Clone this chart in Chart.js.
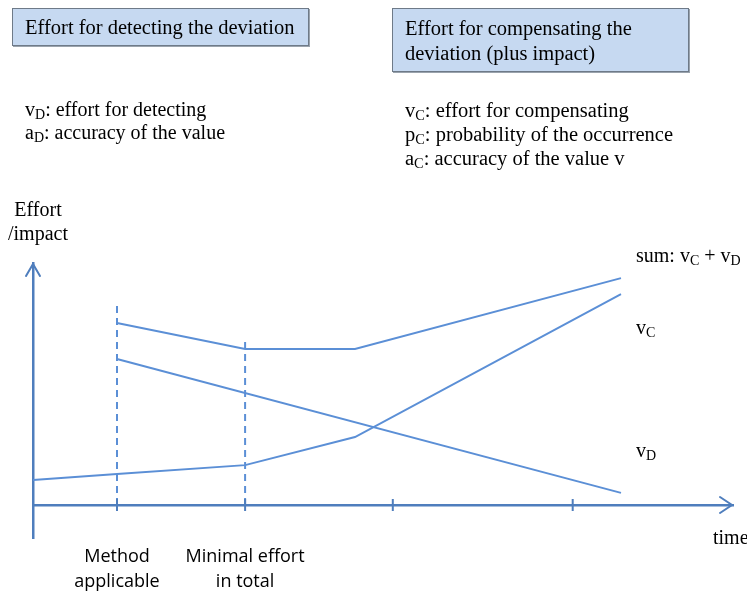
<!DOCTYPE html>
<html>
<head>
<meta charset="utf-8">
<script src="https://cdn.jsdelivr.net/npm/chart.js@4"></script>
<style>
  body { margin: 0; background: #fff; overflow: hidden; }
  #wrap { position: relative; width: 747px; height: 592px; overflow: hidden; }
  #chart { position: absolute; left: 0; top: 0; }
  .t { position: absolute; white-space: nowrap; font-family: "Liberation Serif", serif; color: #000; }
  .t sub { font-size: 70%; vertical-align: -3px; line-height: 0; }
  .box { position: absolute; background: #C6D9F1; border: 1px solid #6E7A88; box-shadow: 1px 1px 0 #9aa3ad;
         font-family: "Liberation Serif", serif; font-size: 20.5px; line-height: 25px; box-sizing: border-box;
         padding: 6px 12px; white-space: nowrap; }
</style>
</head>
<body>
<div id="wrap">
  <canvas id="chart" width="747" height="592"></canvas>

  <div class="box" style="left:12px; top:8px; width:297px; height:38px;">Effort for detecting the deviation</div>
  <div class="box" style="left:392px; top:8px; width:297px; height:64px; padding-top:7px;">Effort for compensating the<br>deviation (plus impact)</div>

  <div class="t" style="left:25px; top:98px; font-size:20px; line-height:23px;">
    v<sub>D</sub>: effort for detecting<br>a<sub>D</sub>: accuracy of the value
  </div>
  <div class="t" style="left:405px; top:98px; font-size:20.5px; line-height:24px;">
    v<sub>C</sub>: effort for compensating<br>p<sub>C</sub>: probability of the occurrence<br>a<sub>C</sub>: accuracy of the value v
  </div>

  <div class="t" style="left:6px; top:197px; width:64px; text-align:center; font-size:20px; line-height:24px;">Effort<br>/impact</div>

  <div class="t" style="left:636px; top:243px; font-size:20px; line-height:24px;">sum: v<sub>C</sub> + v<sub>D</sub></div>
  <div class="t" style="left:636px; top:315px; font-size:20px; line-height:24px;">v<sub>C</sub></div>
  <div class="t" style="left:636px; top:438px; font-size:20px; line-height:24px;">v<sub>D</sub></div>
  <div class="t" style="left:713px; top:525px; font-size:20px; line-height:24px;">time</div>
</div>

<script>
// time positions (x) and effort values (y)
const timeSum = [1.2, 3.03, 4.6, 8.4];
const sumValues = [6.62, 5.67, 5.67, 8.25];

const timeVc = [0, 1.2, 3.03, 4.6, 8.4];
const vcValues = [0.91, 1.13, 1.45, 2.47, 7.67];

const timeVd = [1.2, 8.4];
const vdValues = [5.31, 0.44];

// dashed markers: time and height
const markerTimes = [1.2, 3.03];
const markerTops = [7.35, 5.96];

const tickValues = [1.2, 3.03, 5.14, 7.71];
const tickLabels = [['Method', 'applicable'], ['Minimal effort', 'in total'], '', ''];

const lineColor = '#5B8FD6';
const axisColor = '#4F7EBD';

function toPoints(xs, ys) {
    return xs.map((x, i) => ({ x: x, y: ys[i] }));
}

const datasets = [
    { label: 'sum', data: toPoints(timeSum, sumValues) },
    { label: 'vC', data: toPoints(timeVc, vcValues) },
    { label: 'vD', data: toPoints(timeVd, vdValues) }
].map(d => Object.assign(d, {
    borderColor: lineColor, borderWidth: 2, pointRadius: 0, tension: 0, fill: false
}));

markerTimes.forEach((t, i) => {
    datasets.push({
        label: 'marker' + i,
        data: [{ x: t, y: 0 }, { x: t, y: markerTops[i] }],
        borderColor: lineColor, borderWidth: 2, borderDash: [7, 5],
        pointRadius: 0, fill: false
    });
});

// arrow heads and tick crossings on the axes
const axesExtras = {
    id: 'axesExtras',
    afterDraw(chart) {
        const ctx = chart.ctx;
        const xs = chart.scales.x, ys = chart.scales.y;
        const y0 = ys.getPixelForValue(0);
        const x0 = xs.getPixelForValue(0);
        ctx.save();
        ctx.strokeStyle = axisColor;
        ctx.lineWidth = 2;
        ctx.lineCap = 'round';
        // x arrow
        const xr = xs.right - 1;
        ctx.beginPath();
        ctx.moveTo(xr - 12, y0 - 8);
        ctx.lineTo(xr, y0);
        ctx.lineTo(xr - 12, y0 + 8);
        ctx.stroke();
        // y arrow
        const yt = ys.top + 1;
        ctx.beginPath();
        ctx.moveTo(x0 - 7, yt + 12);
        ctx.lineTo(x0, yt);
        ctx.lineTo(x0 + 7, yt + 12);
        ctx.stroke();
        // ticks
        ctx.lineCap = 'butt';
        tickValues.forEach(v => {
            const px = xs.getPixelForValue(v);
            ctx.beginPath();
            ctx.moveTo(px, y0 - 6);
            ctx.lineTo(px, y0 + 6);
            ctx.stroke();
        });
        ctx.restore();
    }
};

new Chart(document.getElementById('chart').getContext('2d'), {
    type: 'line',
    data: { datasets: datasets },
    options: {
        responsive: false,
        animation: false,
        layout: { padding: { left: 33, right: 14, top: 263, bottom: 54 } },
        plugins: { legend: { display: false }, tooltip: { enabled: false } },
        scales: {
            x: {
                type: 'linear', min: 0, max: 10,
                position: { y: 0 },
                grid: { display: false, drawTicks: false },
                border: { display: true, color: axisColor, width: 2.5 },
                afterBuildTicks: axis => { axis.ticks = tickValues.map(v => ({ value: v })); },
                ticks: {
                    padding: 39,
                    autoSkip: false,
                    maxRotation: 0,
                    color: '#000',
                    font: { family: 'Open Sans', size: 18, lineHeight: 1.39 },
                    callback: (value, index) => tickLabels[index]
                }
            },
            y: {
                type: 'linear', min: -1.2, max: 8.8,
                position: { x: 0 },
                grid: { display: false, drawTicks: false },
                border: { display: true, color: axisColor, width: 2.5 },
                ticks: { display: false }
            }
        }
    },
    plugins: [axesExtras]
});
</script>
</body>
</html>
